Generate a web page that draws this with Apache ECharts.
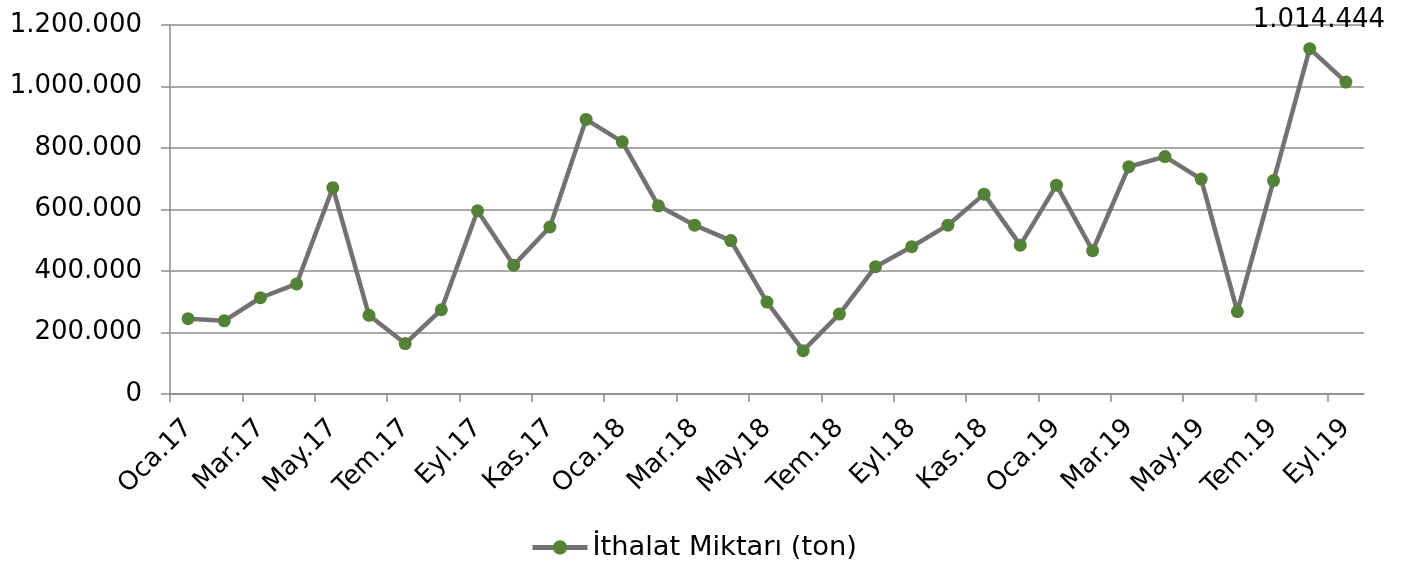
<!DOCTYPE html>
<html>
<head>
<meta charset="utf-8">
<script src="https://cdn.jsdelivr.net/npm/echarts@6/dist/echarts.min.js"></script>
<style>
html,body{margin:0;padding:0;background:#fff;}
#chart{width:1407px;height:570px;}
</style>
</head>
<body>
<div id="chart"></div>
<script>
const categories = [
  'Oca.17','Şub.17','Mar.17','Nis.17','May.17','Haz.17','Tem.17','Ağu.17','Eyl.17','Eki.17','Kas.17','Ara.17',
  'Oca.18','Şub.18','Mar.18','Nis.18','May.18','Haz.18','Tem.18','Ağu.18','Eyl.18','Eki.18','Kas.18','Ara.18',
  'Oca.19','Şub.19','Mar.19','Nis.19','May.19','Haz.19','Tem.19','Ağu.19','Eyl.19'
];
const seriesName = 'İthalat Miktarı (ton)';
const importValues = [
  245000, 238000, 313000, 358000, 671000, 256000, 164000, 274000, 596000, 419000, 543000, 893000,
  820000, 612000, 549000, 499000, 299000, 141000, 260000, 414000, 479000, 549000, 650000, 484000,
  679000, 466000, 739000, 772000, 699000, 268000, 694000, 1123000, 1014444
];
const yTicks = { min: 0, max: 1200000, interval: 200000 };

// boundaries between categories (used only to place the tick marks between months)
const boundaries = Array.from({ length: categories.length + 1 }, (_, i) => String(i));

function fmt(v) {
  return String(Math.round(v)).replace(/\B(?=(\d{3})+(?!\d))/g, '.');
}

const lastIdx = importValues.length - 1;
const data = importValues.map((v, i) => {
  if (i === lastIdx) {
    return {
      value: v,
      label: {
        show: true, position: 'top', offset: [-27, -37],
        formatter: p => fmt(p.value),
        fontFamily: 'DejaVu Sans', fontSize: 26, color: '#000'
      }
    };
  }
  return v;
});

const axisGray = '#8c8c8c';
const chart = echarts.init(document.getElementById('chart'));
chart.setOption({
  animation: false,
  textStyle: { fontFamily: 'DejaVu Sans' },
  grid: { left: 170, right: 43, top: 25, bottom: 176, containLabel: false },
  legend: {
    bottom: 4, left: 525,
    itemWidth: 55, itemHeight: 18, itemGap: 10,
    lineStyle: { width: 5, color: '#767171' },
    textStyle: { fontFamily: 'DejaVu Sans', fontSize: 27.3, color: '#000' },
    data: [seriesName]
  },
  xAxis: [{
    type: 'category',
    data: categories,
    boundaryGap: true,
    axisLine: { lineStyle: { color: axisGray, width: 1.5 } },
    axisTick: { show: false },
    axisLabel: {
      interval: 1, rotate: 45, margin: 30,
      fontFamily: 'DejaVu Sans', fontSize: 26, color: '#000'
    }
  }, {
    type: 'category',
    data: boundaries,
    boundaryGap: false,
    position: 'bottom',
    axisLine: { show: false },
    axisLabel: { show: false },
    splitLine: { show: false },
    axisTick: { show: true, interval: 1, length: 8, lineStyle: { color: axisGray, width: 1.5 } }
  }],
  yAxis: {
    type: 'value',
    min: yTicks.min, max: yTicks.max, interval: yTicks.interval,
    axisLine: { show: true, lineStyle: { color: axisGray, width: 1.5 } },
    axisTick: { show: true, length: 9, lineStyle: { color: axisGray, width: 1.5 } },
    splitLine: { show: true, lineStyle: { color: axisGray, width: 1.5 } },
    axisLabel: {
      margin: 28, formatter: v => fmt(v),
      fontFamily: 'DejaVu Sans', fontSize: 26, color: '#000'
    }
  },
  series: [{
    name: seriesName,
    type: 'line',
    xAxisIndex: 0,
    data: data,
    symbol: 'circle',
    symbolSize: 13,
    lineStyle: { color: '#767171', width: 4.5 },
    itemStyle: { color: '#538135', borderWidth: 0 },
    color: '#538135'
  }]
});
</script>
</body>
</html>
